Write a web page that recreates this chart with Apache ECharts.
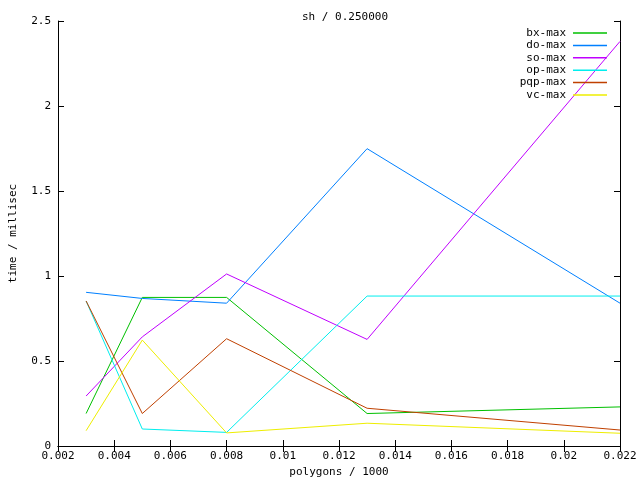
<!DOCTYPE html>
<html>
<head>
<meta charset="utf-8">
<script src="https://cdn.jsdelivr.net/npm/echarts@6/dist/echarts.min.js"></script>
<style>
  html, body { margin: 0; padding: 0; background: #fff; }
  #chart { width: 640px; height: 480px; }
</style>
</head>
<body>
<div id="chart"></div>
<script>
// polygons / 1000
const polygons = [0.003, 0.005, 0.008, 0.013, 0.022]

const bxMax = [0.191, 0.874, 0.874, 0.191, 0.23]
const doMax = [0.904, 0.868, 0.84, 1.749, 0.84]
const soMax = [0.294, 0.642, 1.012, 0.627, 2.38]
const opMax = [0.853, 0.1, 0.08, 0.882, 0.882]
const pqpMax = [0.853, 0.191, 0.631, 0.222, 0.094]
const vcMax = [0.09, 0.623, 0.077, 0.134, 0.075]

const seriesNames = ['bx-max', 'do-max', 'so-max', 'op-max', 'pqp-max', 'vc-max']
const seriesData = [bxMax, doMax, soMax, opMax, pqpMax, vcMax]
const colors = ['#00c000', '#0080ff', '#c000ff', '#00eeee', '#c04000', '#eeee00']

const font = 'DejaVu Sans Mono'
const fmt = v => String(+v.toFixed(3))

const chart = echarts.init(document.getElementById('chart'))

const tickBase = {
  axisLine: { show: true, lineStyle: { color: '#000', width: 1 } },
  axisTick: { show: true, inside: true, length: 6, lineStyle: { color: '#000' } },
  splitLine: { show: false },
}

chart.setOption({
  animation: false,
  backgroundColor: '#fff',
  color: colors,
  title: {
    text: 'sh / 0.250000',
    left: 340,
    textAlign: 'center',
    top: 7,
    textStyle: { fontFamily: font, fontSize: 11, fontWeight: 'normal', color: '#000' },
  },
  legend: {
    orient: 'vertical',
    right: 33,
    top: 27,
    padding: 0,
    align: 'right',
    icon: 'rect',
    itemWidth: 34,
    itemHeight: 1.5,
    itemGap: 0.4,
    formatter: name => name.padStart(7, ' '),
    textStyle: { fontFamily: font, fontSize: 11, lineHeight: 12, color: '#000', padding: [0, 2, 0, 0] },
    data: seriesNames,
  },
  grid: { left: 58, right: 20, top: 21, bottom: 34, containLabel: false, outerBoundsMode: 'none' },
  xAxis: [
    {
      type: 'value',
      min: 0.002,
      max: 0.022,
      interval: 0.002,
      name: 'polygons / 1000',
      nameLocation: 'middle',
      nameGap: 18,
      nameTextStyle: { fontFamily: font, fontSize: 11, color: '#000' },
      axisLabel: { fontFamily: font, fontSize: 11, color: '#000', margin: 5, formatter: fmt },
      ...tickBase,
    },
    {
      type: 'value',
      position: 'top',
      min: 0.002,
      max: 0.022,
      interval: 0.002,
      axisLabel: { show: false },
      ...tickBase,
    },
  ],
  yAxis: [
    {
      type: 'value',
      min: 0,
      max: 2.5,
      interval: 0.5,
      name: 'time / millisec',
      nameLocation: 'middle',
      nameGap: 39,
      nameTextStyle: { fontFamily: font, fontSize: 11, color: '#000' },
      axisLabel: { fontFamily: font, fontSize: 11, color: '#000', margin: 7, formatter: fmt },
      ...tickBase,
    },
    {
      type: 'value',
      position: 'right',
      min: 0,
      max: 2.5,
      interval: 0.5,
      axisLabel: { show: false },
      ...tickBase,
    },
  ],
  series: seriesNames.map((name, i) => ({
    name,
    type: 'line',
    symbol: 'none',
    lineStyle: { width: 1, color: colors[i] },
    itemStyle: { color: colors[i] },
    data: polygons.map((x, j) => [x, seriesData[i][j]]),
  })),
})
</script>
</body>
</html>
